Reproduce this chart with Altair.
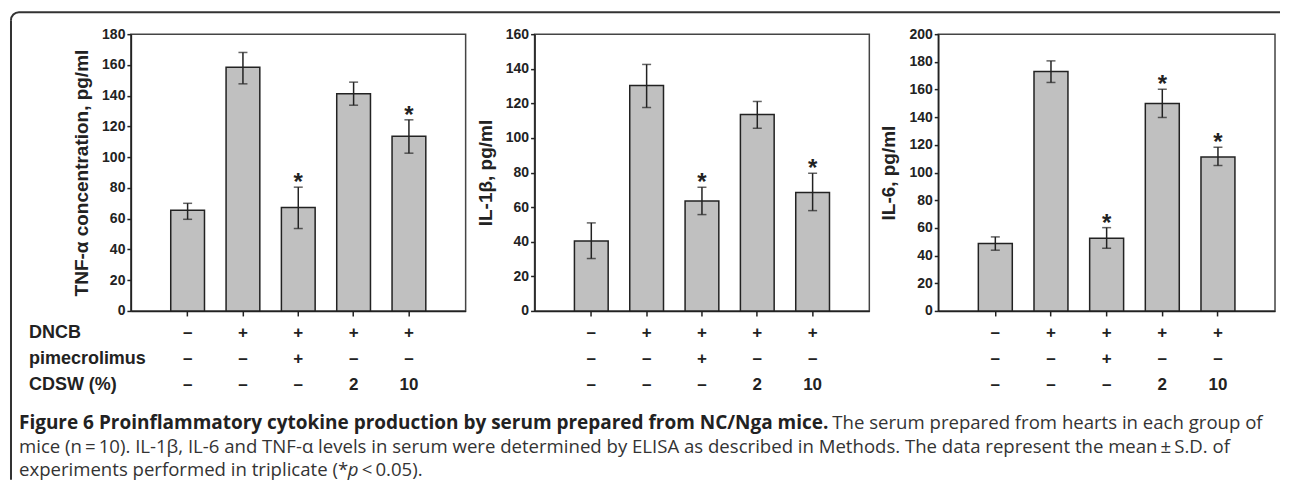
import altair as alt
import pandas as pd

groups = ["G1", "G2", "G3", "G4", "G5"]
dncb = ["–", "+", "+", "+", "+"]
pime = ["–", "–", "+", "–", "–"]
cdsw = ["–", "–", "–", "2", "10"]
row_labels = ["DNCB", "pimecrolimus", "CDSW (%)"]

tnf_mean = [65.5, 158.5, 67.2, 141.3, 113.6]
tnf_lo = [59.6, 147.7, 53.6, 133.8, 102.6]
tnf_hi = [70.0, 168.1, 80.5, 148.8, 124.3]
tnf_sig = [False, False, True, False, True]

il1b_mean = [40.5, 130.3, 63.6, 113.5, 68.4]
il1b_lo = [30.3, 117.6, 55.7, 105.6, 58.0]
il1b_hi = [50.9, 142.5, 71.5, 121.1, 79.6]
il1b_sig = [False, False, True, False, True]

il6_mean = [48.7, 173.0, 52.5, 149.9, 111.3]
il6_lo = [43.9, 165.1, 45.3, 139.8, 105.1]
il6_hi = [53.5, 180.7, 60.2, 160.2, 118.3]
il6_sig = [False, False, True, True, True]

cap1_bold = "Figure 6 Proinflammatory cytokine production by serum prepared from NC/Nga mice."
cap1_rest = "The serum prepared from hearts in each group of"
cap2 = "mice (n\u2009=\u200910). IL-1β, IL-6 and TNF-α levels in serum were determined by ELISA as described in Methods. The data represent the mean\u2009±\u2009S.D. of"
cap3a = "experiments performed in triplicate (*"
cap3b = "p"
cap3c = "\u2009<\u20090.05)."

LABEL_FONT = "Liberation Sans"
CAP_FONT = "Open Sans"
DARK = "#222222"
H = 277
ROW_Y = [299, 325, 351]
CAP_SIZE = 18.6


def panel(mean, lo, hi, sig, ymax, ytitle, width, first=False):
    df = pd.DataFrame({
        "g": groups, "mean": mean, "lo": lo, "hi": hi,
        "star": ["*" if s else "" for s in sig],
        "dncb": dncb, "pime": pime, "cdsw": cdsw,
    })
    xaxis = alt.Axis(labels=False, title=None, ticks=True, tickSize=5,
                     domainColor=DARK, tickColor=DARK,
                     domainWidth=1.5, tickWidth=1.5, grid=False)
    xscale = alt.Scale(paddingInner=0.39, paddingOuter=0.72)
    x = alt.X("g:N", sort=groups, scale=xscale, axis=xaxis)
    yscale = alt.Scale(domain=[0, ymax], nice=False)
    yaxis = alt.Axis(values=list(range(0, ymax + 1, 20)), title=ytitle,
                     grid=False, tickSize=4, labelPadding=2,
                     titlePadding=10, domainColor=DARK, tickColor=DARK,
                     domainWidth=1.5, tickWidth=1.5, labelOverlap=False,
                     labelFont=LABEL_FONT, labelFontWeight="bold",
                     labelFontSize=14, labelColor=DARK,
                     titleFont=LABEL_FONT, titleFontWeight="bold",
                     titleFontSize=19, titleColor=DARK)
    y = alt.Y("mean:Q", scale=yscale, axis=yaxis, title=ytitle)
    ylo = alt.Y("lo:Q", scale=yscale, axis=yaxis, title=ytitle)
    yhi = alt.Y("hi:Q", scale=yscale, axis=yaxis, title=ytitle)
    base = alt.Chart(df)
    bars = base.mark_bar(color="#c0c0c0", stroke=DARK, strokeWidth=1.5).encode(x=x, y=y)
    err = base.mark_rule(color=DARK, strokeWidth=1.5).encode(x=x, y=ylo, y2="hi:Q")
    cap_hi = base.mark_tick(color=DARK, size=9, thickness=1.5).encode(x=x, y=yhi)
    cap_lo = base.mark_tick(color=DARK, size=9, thickness=1.5).encode(x=x, y=ylo)
    stars = base.mark_text(font=LABEL_FONT, fontWeight="bold", fontSize=24,
                           baseline="alphabetic", dy=3, color=DARK).encode(
        x=x, y=yhi, text="star:N")
    layers = [bars, err, cap_hi, cap_lo, stars]
    for field, ry in zip(["dncb", "pime", "cdsw"], ROW_Y):
        layers.append(base.mark_text(font=LABEL_FONT, fontWeight="bold", fontSize=17,
                                     baseline="middle", color=DARK).encode(
            x=x, y=alt.value(ry), text=f"{field}:N"))
    if first:
        one = alt.Chart(pd.DataFrame({"a": [0]}))
        for lab, ry in zip(row_labels, ROW_Y):
            layers.append(one.mark_text(text=lab, font=LABEL_FONT, fontWeight="bold",
                                        fontSize=18, align="left", baseline="middle",
                                        color=DARK).encode(x=alt.value(-102), y=alt.value(ry)))
        # outer frame
        layers.append(one.mark_rule(color="#333", strokeWidth=2).encode(
            x=alt.value(-120), y=alt.value(-14), y2=alt.value(446)))
        layers.append(one.mark_rule(color="#333", strokeWidth=2).encode(
            x=alt.value(-112), x2=alt.value(1150), y=alt.value(-22)))
        layers.append(one.mark_arc(radius=9, radius2=7, color="#333").encode(
            x=alt.value(-112), y=alt.value(-14), theta=alt.value(4.7124), theta2=alt.value(6.2832)))
        # caption
        layers.append(one.mark_text(text=cap1_bold, font=CAP_FONT, fontWeight="bold",
                                    fontSize=19, align="left", baseline="alphabetic",
                                    color="#222").encode(x=alt.value(-112), y=alt.value(395)))
        layers.append(one.mark_text(text=cap1_rest, font=CAP_FONT, fontSize=CAP_SIZE,
                                    align="left", baseline="alphabetic",
                                    color="#333").encode(x=alt.value(702), y=alt.value(395)))
        layers.append(one.mark_text(text=cap2, font=CAP_FONT, fontSize=CAP_SIZE,
                                    align="left", baseline="alphabetic",
                                    color="#333").encode(x=alt.value(-112), y=alt.value(419)))
        layers.append(one.mark_text(text=cap3a, font=CAP_FONT, fontSize=CAP_SIZE,
                                    align="left", baseline="alphabetic",
                                    color="#333").encode(x=alt.value(-112), y=alt.value(442)))
        layers.append(one.mark_text(text=cap3b, font=CAP_FONT, fontSize=CAP_SIZE, fontStyle="italic",
                                    align="left", baseline="alphabetic",
                                    color="#333").encode(x=alt.value(217), y=alt.value(442)))
        layers.append(one.mark_text(text=cap3c, font=CAP_FONT, fontSize=CAP_SIZE,
                                    align="left", baseline="alphabetic",
                                    color="#333").encode(x=alt.value(231), y=alt.value(442)))
    return alt.layer(*layers).properties(width=width, height=H)


p1 = panel(tnf_mean, tnf_lo, tnf_hi, tnf_sig, 180, "TNF-α concentration, pg/ml", 335, first=True)
p2 = panel(il1b_mean, il1b_lo, il1b_hi, il1b_sig, 160, "IL-1β, pg/ml", 335)
p3 = panel(il6_mean, il6_lo, il6_hi, il6_sig, 200, "IL-6, pg/ml", 337)

chart = alt.hconcat(p1, p2, p3, spacing=69, bounds="flush").properties(
    padding={"left": 1, "top": 2, "right": 0, "bottom": 0},
    background="white",
).configure_view(stroke="#444", strokeWidth=1.5)

chart.save("out.html", embed_options={"renderer": "svg", "actions": False})
